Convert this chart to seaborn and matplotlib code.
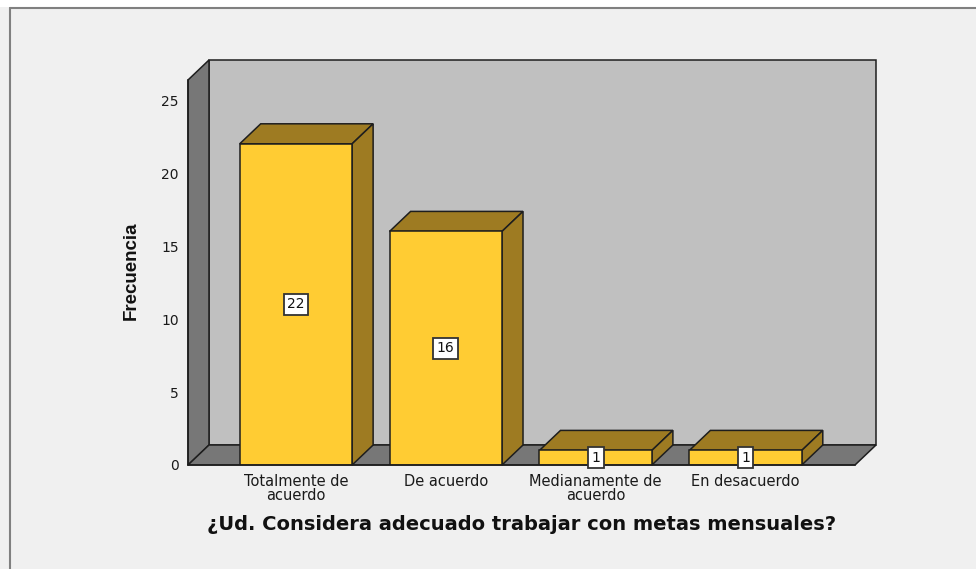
import numpy as np
import pandas as pd
import matplotlib
matplotlib.use("Agg")
import matplotlib.pyplot as plt
from matplotlib.patches import Polygon, Rectangle
from matplotlib.lines import Line2D
import seaborn as sns

# ---- data ----
categories = ["Totalmente de\nacuerdo", "De acuerdo", "Medianamente de\nacuerdo", "En desacuerdo"]
frecuencias = [22, 16, 1, 1]
y_ticks = [0, 5, 10, 15, 20, 25]
x_label = "¿Ud. Considera adecuado trabajar con metas mensuales?"
y_label = "Frecuencia"

# ---- style ----
sns.set_style("white")
plt.rcParams["font.family"] = ["DejaVu Sans"]

FRONT = "#FFCC33"
SHADE = "#9E7B22"
BACKWALL = "#C0C0C0"
SIDEWALL = "#777777"
EDGE = "#1E1E1E"

W, H = 976, 569
fig = plt.figure(figsize=(W / 100, H / 100), dpi=100, facecolor="#F0F0F0")

# layout in pixels
AX_L, AX_R, AX_T, AX_B = 188, 855, 80, 465
DEPTH_X, DEPTH_Y = 21, 20
XLIM = (-0.72, 3.73)
YLIM = (0, 26.37)

ax = fig.add_axes([AX_L / W, 1 - AX_B / H, (AX_R - AX_L) / W, (AX_B - AX_T) / H])
ax.set_facecolor("none")

df = pd.DataFrame({"cat": categories, "freq": frecuencias})
sns.barplot(data=df, x="cat", y="freq", color=FRONT, saturation=1, width=0.75,
            edgecolor=EDGE, linewidth=1.1, ax=ax, zorder=3)

ax.set_xlim(*XLIM)
ax.set_ylim(*YLIM)

# depth offsets in data units
DX = DEPTH_X * (XLIM[1] - XLIM[0]) / (AX_R - AX_L)
DY = DEPTH_Y * (YLIM[1] - YLIM[0]) / (AX_B - AX_T)
x0, x1 = XLIM
y0, y1 = YLIM

def poly(pts, fc, z):
    p = Polygon(pts, closed=True, facecolor=fc, edgecolor=EDGE, linewidth=1.1,
                clip_on=False, zorder=z, joinstyle="miter")
    ax.add_patch(p)

# back wall, left wall, floor
poly([(x0 + DX, y0 + DY), (x1 + DX, y0 + DY), (x1 + DX, y1 + DY), (x0 + DX, y1 + DY)], BACKWALL, 0.5)
poly([(x0, y0), (x0 + DX, y0 + DY), (x0 + DX, y1 + DY), (x0, y1)], SIDEWALL, 0.6)
poly([(x0, y0), (x1, y0), (x1 + DX, y0 + DY), (x0 + DX, y0 + DY)], SIDEWALL, 0.6)

# 3D faces of bars
bars = [p for p in ax.patches if isinstance(p, Rectangle) and p.get_height() > 0]
for b in bars:
    bx0 = b.get_x()
    bw = b.get_width()
    h = b.get_height()
    bx1 = bx0 + bw
    poly([(bx0, h), (bx1, h), (bx1 + DX, h + DY), (bx0 + DX, h + DY)], SHADE, 2.8)
    poly([(bx1, 0), (bx1 + DX, DY), (bx1 + DX, h + DY), (bx1, h)], SHADE, 2.8)
    ax.text(bx0 + bw / 2, h / 2, f"{int(h)}", ha="center", va="center", fontsize=10,
            color="#111111", zorder=6,
            bbox=dict(boxstyle="square,pad=0.25", fc="white", ec="#333333", lw=1.3))

# axes cosmetics
for s in ["top", "right"]:
    ax.spines[s].set_visible(False)
for s in ["left", "bottom"]:
    ax.spines[s].set_color(EDGE)
    ax.spines[s].set_linewidth(1.1)
    ax.spines[s].set_zorder(4)
ax.set_yticks(y_ticks)
ax.tick_params(axis="both", direction="out", length=5, width=1.1, color=EDGE,
               labelsize=10, labelcolor="#1a1a1a", pad=1.5)
ax.tick_params(axis="x", labelsize=10.5)
for lab in ax.get_xticklabels():
    lab.set_linespacing(0.88)

ax.set_xlabel(x_label, fontsize=14, fontweight="bold", color="#111111")
ax.xaxis.set_label_coords(0.5, -(525 - AX_B) / (AX_B - AX_T))
ax.xaxis.label.set_va("center")
ax.set_ylabel(y_label, fontsize=13.5, fontweight="bold", color="#111111",
              family="Liberation Sans")
ax.yaxis.set_label_coords((131 - AX_L) / (AX_R - AX_L), (AX_B - 271) / (AX_B - AX_T))
ax.yaxis.label.set_va("center")

# frame: white strip on top, gray border lines
fig.add_artist(Rectangle((0, 1 - 7 / H), 1, 7 / H, transform=fig.transFigure,
                         facecolor="white", edgecolor="none", zorder=0))
fig.add_artist(Line2D([9.5 / W, 1], [1 - 7.5 / H, 1 - 7.5 / H], transform=fig.transFigure,
                      color="#808080", lw=1.5))
fig.add_artist(Line2D([9.5 / W, 9.5 / W], [0, 1 - 7.5 / H], transform=fig.transFigure,
                      color="#808080", lw=1.5))

fig.savefig("out.png", dpi=100, facecolor=fig.get_facecolor())
